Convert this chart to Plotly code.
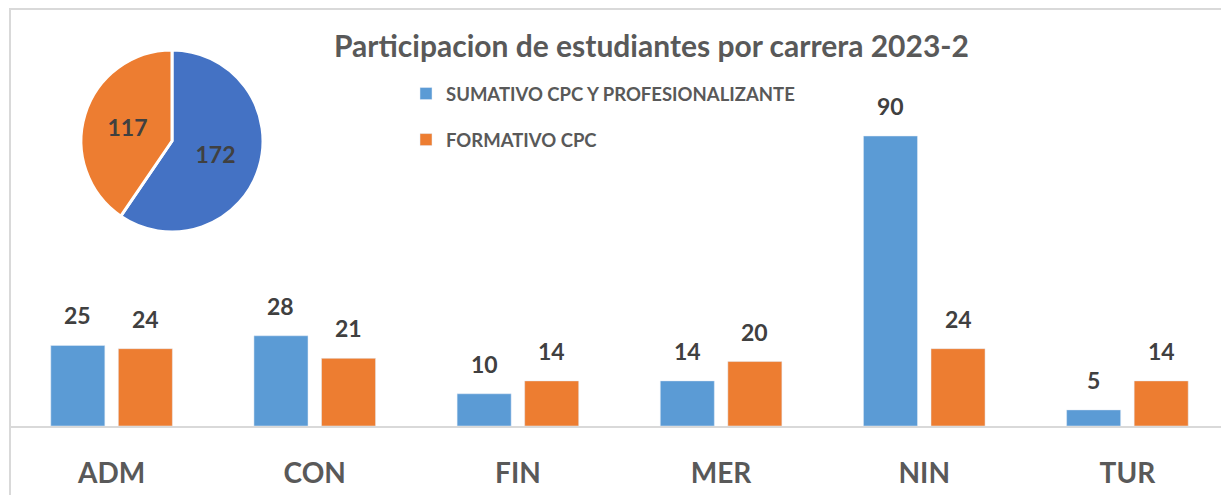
import plotly.graph_objects as go

categories = ["ADM", "CON", "FIN", "MER", "NIN", "TUR"]
sumativo = [25, 28, 10, 14, 90, 5]
formativo = [24, 21, 14, 20, 24, 14]
series_names = ["SUMATIVO CPC Y PROFESIONALIZANTE", "FORMATIVO CPC"]
pie_values = [172, 117]
title_text = "Participacion de estudiantes por carrera 2023-2"

BLUE = "#5B9BD5"
ORANGE = "#ED7D31"
PIE_BLUE = "#4472C4"
TXT = "#595959"
LBL = "#404040"
FONT = "Lato"

# the page body has an 8px margin, so the figure is placed 8px in/down
BODY = 8
W, H = 1221, 487
ml, mr, mt, mb = 2, 0, 1, 69
plot_w = W - ml - mr
plot_h = H - mt - mb
BASE_Y = 426  # screen y of the axis line
px_per_unit = 290 / 90.0
ymax = plot_h / px_per_unit


def sx(X):
    return (X - BODY - ml) / plot_w


def sy(Y):
    return (BASE_Y - Y) / plot_h


fig = go.Figure()
fig.add_trace(go.Bar(x=categories, y=sumativo, name=series_names[0],
                     marker_color=BLUE, legendgroup="a"))
fig.add_trace(go.Bar(x=categories, y=formativo, name=series_names[1],
                     marker_color=ORANGE, legendgroup="b"))

fig.add_trace(go.Pie(values=pie_values, labels=["Sumativo", "Formativo"],
                     marker=dict(colors=[PIE_BLUE, ORANGE], line=dict(color="white", width=3)),
                     sort=False, direction="clockwise", rotation=0,
                     textinfo="value", textposition="inside",
                     insidetextorientation="horizontal",
                     textfont=dict(family=FONT, size=23, color=LBL, weight="bold"),
                     showlegend=False, hoverinfo="skip",
                     domain=dict(x=[sx(81), sx(263)], y=[sy(232), sy(50)])))

BARGAP, GROUPGAP = 0.335, 0.2
cat_w = plot_w / len(categories)
slot = cat_w * (1 - BARGAP) / 2
annotations = []
for series, sign in ((sumativo, -1), (formativo, 1)):
    for c, v in zip(categories, series):
        annotations.append(dict(x=c, y=v, xref="x", yref="y", text=f"<b>{v}</b>",
                                showarrow=False, yanchor="bottom", xshift=sign * slot / 2,
                                yshift=14,
                                font=dict(family=FONT, size=23, color=LBL)))

annotations.append(dict(x=sx(651), y=sy(45), xref="paper", yref="paper",
                        text=f"<b>{title_text}</b>", showarrow=False,
                        xanchor="center", yanchor="middle",
                        font=dict(family=FONT, size=30, color=TXT)))

fig.update_layout(
    width=W, height=H,
    margin=dict(l=ml, r=mr, t=mt, b=mb, autoexpand=False),
    paper_bgcolor="white", plot_bgcolor="white",
    barmode="group", bargap=BARGAP, bargroupgap=GROUPGAP,
    annotations=annotations,
    showlegend=True,
    legend=dict(x=sx(406), y=sy(75), xanchor="left", yanchor="top",
                font=dict(family=FONT, size=18.5, color=TXT, weight="bold"),
                itemwidth=30,
                tracegroupgap=19, bgcolor="rgba(0,0,0,0)"),
    shapes=[dict(type="rect", xref="paper", yref="paper", x0=0, x1=sx(1227),
                 y0=-0.3, y1=1, line=dict(color="#D9D9D9", width=2), layer="below")],
)
fig.update_xaxes(showline=True, linecolor="#D9D9D9", linewidth=1.5, automargin=False,
                 ticks="", showgrid=False, ticklabelstandoff=22,
                 tickfont=dict(family=FONT, size=28, color=TXT, weight="bold"))
fig.update_yaxes(range=[0, ymax], visible=False, showgrid=False, zeroline=False,
                 automargin=False)

fig.write_html("out.html")
